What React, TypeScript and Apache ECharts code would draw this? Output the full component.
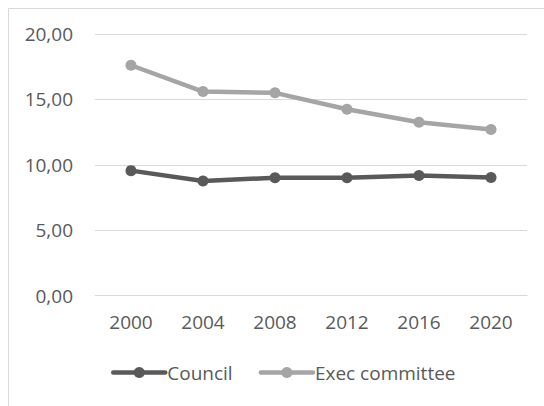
import React, { useEffect, useRef } from "react";
import * as echarts from "echarts";

const years = ["2000", "2004", "2008", "2012", "2016", "2020"];
const councilValues = [9.55, 8.76, 9.01, 9.01, 9.17, 9.02];
const execValues = [17.61, 15.6, 15.5, 14.25, 13.25, 12.69];
const seriesNames = ["Council", "Exec committee"];

const FONT = "'Open Sans', 'Noto Sans', sans-serif";
const TEXT = "#595959";

export default function App() {
  const ref = useRef<HTMLDivElement>(null);
  useEffect(() => {
    const chart = echarts.init(ref.current!, null, { renderer: "svg" });
    const mkSeries = (name: string, data: number[], color: string) => ({
      name,
      type: "line",
      data,
      symbol: "circle",
      symbolSize: 11,
      showSymbol: true,
      itemStyle: { color },
      lineStyle: { color, width: 4.5, cap: "round", join: "round" },
    });
    chart.setOption({
      animation: false,
      backgroundColor: "#ffffff",
      textStyle: { fontFamily: FONT },
      graphic: [
        {
          type: "rect",
          shape: { x: 8.5, y: 8.5, width: 700, height: 600 },
          style: { fill: "none", stroke: "#d9d9d9", lineWidth: 1 },
          silent: true,
        },
      ],
      grid: { left: 95, right: 17, top: 34, bottom: 110.5, containLabel: false },
      xAxis: {
        type: "category",
        data: years,
        boundaryGap: true,
        axisLine: { show: true, lineStyle: { color: "#d9d9d9", width: 1 } },
        axisTick: { show: false },
        axisLabel: { color: TEXT, fontSize: 19, fontFamily: FONT, margin: 17 },
      },
      yAxis: {
        type: "value",
        min: 0,
        max: 20,
        interval: 5,
        axisLine: { show: false },
        axisTick: { show: false },
        splitLine: { lineStyle: { color: "#d9d9d9", width: 1 } },
        axisLabel: {
          color: TEXT,
          fontSize: 19,
          fontFamily: FONT,
          margin: 22,
          formatter: (v: number) => v.toFixed(2).replace(".", ","),
        },
      },
      legend: {
        data: seriesNames,
        left: 106,
        top: 358,
        itemWidth: 52,
        itemHeight: 14,
        itemGap: 26,
        lineStyle: { width: 4.5 },
        textStyle: { color: TEXT, fontSize: 19, fontFamily: FONT, padding: [0, 0, 0, -3] },
      },
      series: [
        mkSeries(seriesNames[0], councilValues, "#595959"),
        mkSeries(seriesNames[1], execValues, "#a5a5a5"),
      ],
    });
    return () => chart.dispose();
  }, []);
  return (
    <div
      ref={ref}
      style={{ position: "fixed", left: 0, top: 0, width: 544, height: 406 }}
    />
  );
}
